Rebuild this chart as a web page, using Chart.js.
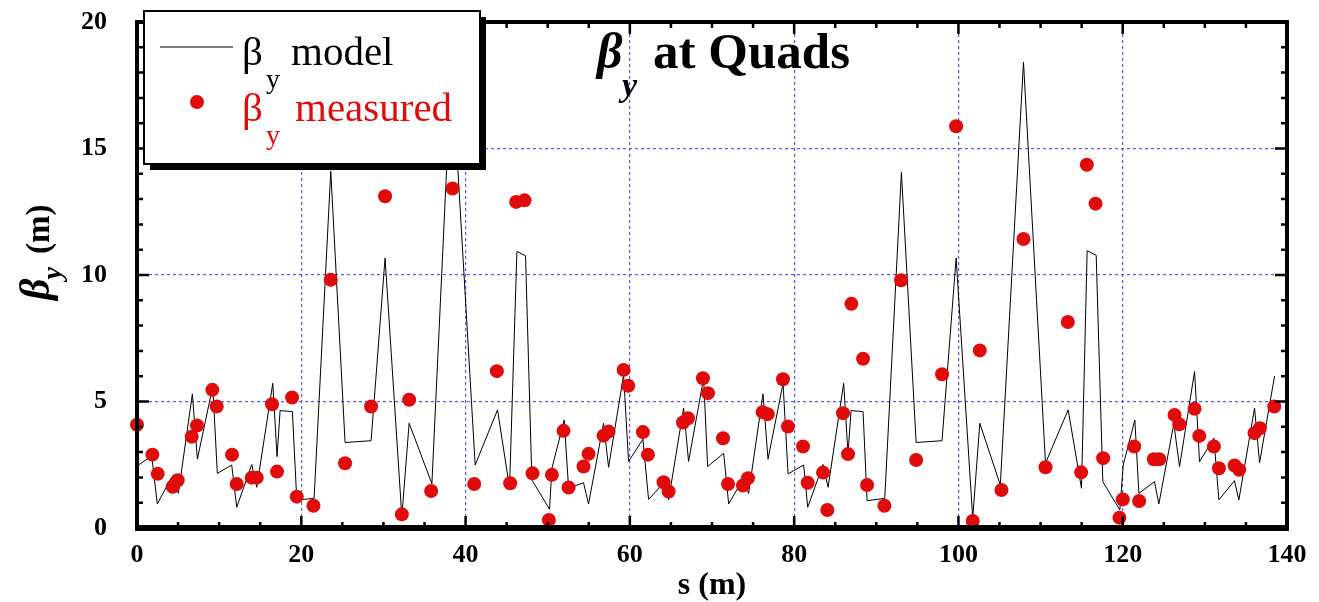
<!DOCTYPE html>
<html>
<head>
<meta charset="utf-8">
<script src="https://cdn.jsdelivr.net/npm/chart.js@4.4.1/dist/chart.umd.min.js"></script>
<style>
  body { margin: 0; background: #fff; }
  #wrap { width: 1319px; height: 602px; }
</style>
</head>
<body>
<div id="wrap"><canvas id="betaChart"></canvas></div>
<script>
// model beta_y along the line (s in m)
const modelS = [0, 1.79, 2.47, 4.22, 5.04, 6.74, 7.35, 9.22, 9.78, 11.53, 12.14, 13.97, 14.58, 16.53, 17.05,
    17.42, 18.92, 19.45, 21.56, 23.59, 25.33, 28.5, 30.2, 32.24, 33.13, 35.9, 38.3, 41.17, 43.89, 45.35,
    46.25, 47.3, 48.07, 50.22, 50.51, 52.01, 52.54, 54.36, 54.97, 56.8, 57.41, 59.24, 59.84, 61.59, 62.28,
    64.11, 64.72, 66.54, 67.15, 68.98, 69.47, 71.42, 72.03, 73.77, 74.46, 76.21, 76.82, 78.65, 79.26, 81.16,
    81.65, 83.52, 84.13, 86.03, 86.56, 86.93, 88.39, 88.88, 91.03, 93.06, 94.85, 98.0, 99.72, 101.74, 102.6,
    105.1, 107.92, 110.6, 113.36, 114.98, 115.67, 116.77, 117.58, 119.65, 120.06, 121.48, 121.97, 123.87, 124.4, 126.22,
    126.92, 128.75, 129.35, 131.1, 131.71, 133.6, 134.14, 136.05, 136.66, 138.49];
const modelBeta = [2.45, 2.85, 0.95, 2.01, 1.37, 5.3, 2.72, 5.6, 2.16, 2.49, 0.82, 2.51, 1.61, 5.72, 2.82,
    4.64, 4.6, 1.11, 1.17, 14.1, 3.38, 3.45, 10.67, 0.45, 4.14, 1.75, 18.4, 2.49, 4.67, 1.6,
    10.93, 10.76, 1.9, 0.74, 2.36, 4.27, 1.57, 1.79, 0.95, 4.14, 2.4, 6.05, 2.63, 3.51, 1.13,
    1.77, 1.11, 4.74, 2.63, 5.92, 2.43, 2.95, 0.95, 1.93, 1.37, 5.3, 2.72, 5.72, 2.14, 2.49,
    0.82, 2.51, 1.61, 5.72, 2.93, 4.64, 4.6, 1.08, 1.17, 14.06, 3.38, 3.45, 10.67, 0.38, 4.14,
    1.7, 18.41, 2.56, 4.67, 1.57, 10.96, 10.78, 1.83, 0.71, 2.49, 4.27, 1.37, 1.83, 0.95, 4.12,
    2.43, 6.19, 2.62, 3.55, 1.11, 1.87, 1.11, 4.74, 2.58, 6.01];

// measured beta_y at the quads
const measS = [0, 1.87, 2.52, 4.34, 4.95, 6.66, 7.31, 9.17, 9.7, 11.57, 12.14, 13.97, 14.58, 16.44, 17.05,
    18.88, 19.45, 21.48, 23.59, 25.33, 28.5, 30.2, 32.24, 33.13, 35.81, 38.41, 41.05, 43.81, 45.43, 46.16,
    47.18, 48.15, 50.14, 50.51, 51.93, 52.54, 54.36, 54.97, 56.8, 57.41, 59.24, 59.8, 61.59, 62.2, 64.1,
    64.72, 66.47, 67.07, 68.9, 69.51, 71.34, 71.95, 73.77, 74.38, 76.17, 76.78, 78.64, 79.25, 81.08, 81.65,
    83.52, 84.04, 85.95, 86.56, 86.97, 88.39, 88.88, 90.99, 93.02, 94.85, 98.01, 99.72, 101.74, 102.6, 105.24,
    107.92, 110.6, 113.32, 114.94, 115.63, 116.69, 117.62, 119.6, 120.01, 121.4, 122.0, 123.79, 124.44, 126.31,
    126.88, 128.75, 129.32, 131.1, 131.71, 133.62, 134.18, 136.05, 136.7, 138.45];
const measBeta = [4.08, 2.9, 2.14, 1.63, 1.89, 3.61, 4.05, 5.46, 4.8, 2.9, 1.74, 1.99, 1.99, 4.89, 2.23,
    5.16, 1.24, 0.88, 9.81, 2.56, 4.8, 13.11, 0.54, 5.07, 1.46, 13.42, 1.74, 6.2, 1.77, 12.89,
    12.95, 2.16, 0.32, 2.1, 3.84, 1.6, 2.43, 2.93, 3.65, 3.81, 6.25, 5.62, 3.79, 2.9, 1.81,
    1.44, 4.17, 4.34, 5.92, 5.33, 3.55, 1.74, 1.68, 1.97, 4.58, 4.5, 5.88, 4.01, 3.22, 1.79,
    2.19, 0.71, 4.54, 2.92, 8.86, 6.69, 1.7, 0.88, 9.79, 2.69, 6.08, 15.88, 0.28, 7.02, 1.5,
    11.42, 2.4, 8.14, 2.2, 14.36, 12.82, 2.76, 0.41, 1.13, 3.22, 1.07, 2.72, 2.72, 4.47,
    4.1, 4.71, 3.64, 3.22, 2.36, 2.47, 2.3, 3.75, 3.94, 4.8];

const xTickStep = 20;   // labelled x ticks
const yTickStep = 5;    // labelled y ticks
const xMinorStep = 5;
const yMinorStep = 1;

const SERIF = "'Liberation Serif', 'Times New Roman', serif";
const RED = '#e00b0b';
const GRID = 'rgba(70, 70, 230, 0.9)';

const gridColor = (lo, hi) => ctx => {
    const v = ctx.tick ? ctx.tick.value : null;
    return (v !== null && v > lo && v < hi) ? GRID : 'rgba(0,0,0,0)';
};

// frame, inner ticks, legend, title and axis titles
const decorations = {
    id: 'decorations',
    afterDraw(chart) {
        const ctx = chart.ctx;
        const area = chart.chartArea;
        const xs = chart.scales.x, ys = chart.scales.y;
        ctx.save();

        // frame
        ctx.strokeStyle = '#000';
        ctx.lineWidth = 4;
        ctx.strokeRect(area.left, area.top, area.right - area.left, area.bottom - area.top);
        ctx.lineWidth = 6;
        ctx.beginPath();
        ctx.moveTo(area.left - 2, area.bottom); ctx.lineTo(area.right + 2, area.bottom);
        ctx.stroke();

        // inner ticks on all four sides
        ctx.lineWidth = 2.5;
        ctx.beginPath();
        for (let v = 0; v <= 140; v += xMinorStep) {
            const px = xs.getPixelForValue(v);
            const len = v % xTickStep === 0 ? 12 : 6;
            ctx.moveTo(px, area.bottom); ctx.lineTo(px, area.bottom - len);
            ctx.moveTo(px, area.top); ctx.lineTo(px, area.top + len);
        }
        for (let v = 0; v <= 20; v += yMinorStep) {
            const py = ys.getPixelForValue(v);
            const len = v % yTickStep === 0 ? 12 : 6;
            ctx.moveTo(area.left, py); ctx.lineTo(area.left + len, py);
            ctx.moveTo(area.right, py); ctx.lineTo(area.right - len, py);
        }
        ctx.stroke();

        // legend box with shadow
        const lx = 144, ly = 11, lw = 336, lh = 153;
        ctx.fillStyle = '#000';
        ctx.fillRect(lx + 6, ly + 6, lw, lh);
        ctx.fillStyle = '#fff';
        ctx.fillRect(lx, ly, lw, lh);
        ctx.lineWidth = 2;
        ctx.strokeStyle = '#000';
        ctx.strokeRect(lx, ly, lw, lh);

        ctx.lineWidth = 1;
        ctx.beginPath();
        ctx.moveTo(160, 47); ctx.lineTo(233, 47);
        ctx.stroke();

        ctx.fillStyle = RED;
        ctx.beginPath();
        ctx.arc(197, 102, 7, 0, Math.PI * 2);
        ctx.fill();

        ctx.textAlign = 'left';
        ctx.textBaseline = 'alphabetic';
        ctx.fillStyle = '#000';
        ctx.font = `41px ${SERIF}`;
        ctx.fillText('\u03b2', 242, 65);
        ctx.fillText('model', 291, 65);
        ctx.font = `28px ${SERIF}`;
        ctx.fillText('y', 266, 88);

        ctx.fillStyle = RED;
        ctx.font = `41px ${SERIF}`;
        ctx.fillText('\u03b2', 242, 121);
        ctx.fillText('measured', 295, 121);
        ctx.font = `28px ${SERIF}`;
        ctx.fillText('y', 266, 144);

        // title
        ctx.fillStyle = '#000';
        ctx.font = `italic bold 50px ${SERIF}`;
        ctx.fillText('\u03b2', 597, 68);
        ctx.font = `italic bold 34px ${SERIF}`;
        ctx.fillText('y', 622, 96);
        ctx.font = `bold 51px ${SERIF}`;
        ctx.fillText('at Quads', 653, 68);

        // x axis title
        ctx.font = `bold 32px ${SERIF}`;
        ctx.textAlign = 'center';
        ctx.fillText('s (m)', (area.left + area.right) / 2, 594);

        // y axis title, rotated
        ctx.translate(49, 300);
        ctx.rotate(-Math.PI / 2);
        ctx.textAlign = 'left';
        ctx.font = `italic bold 42px ${SERIF}`;
        ctx.fillText('\u03b2', 0, 0);
        const bw = ctx.measureText('\u03b2').width;
        ctx.font = `italic bold 28px ${SERIF}`;
        ctx.fillText('y', bw - 1, 12);
        const yw = ctx.measureText('y').width;
        ctx.font = `bold 33px ${SERIF}`;
        ctx.fillText('(m)', bw + yw + 12, 0);

        ctx.restore();
    }
};

new Chart(document.getElementById('betaChart'), {
    type: 'scatter',
    data: {
        datasets: [
            {
                label: 'βy measured',
                data: measS.map((s, i) => ({ x: s, y: measBeta[i] })),
                backgroundColor: RED,
                borderColor: RED,
                borderWidth: 0,
                pointRadius: 7,
                clip: false
            },
            {
                label: 'βy model',
                data: modelS.map((s, i) => ({ x: s, y: modelBeta[i] })),
                showLine: true,
                borderColor: '#000',
                borderWidth: 1,
                pointRadius: 0,
                tension: 0
            }
        ]
    },
    options: {
        responsive: true,
        maintainAspectRatio: false,
        animation: false,
        layout: { padding: { left: 0, right: 32, top: 22, bottom: 0 } },
        plugins: { legend: { display: false }, tooltip: { enabled: false } },
        scales: {
            x: {
                type: 'linear', min: 0, max: 140,
                ticks: { stepSize: xTickStep, padding: 12, color: '#000', maxRotation: 0,
                    font: { family: SERIF, size: 26, weight: 'bold' } },
                grid: { drawTicks: false, color: gridColor(0, 140), lineWidth: 1.2 },
                border: { display: false, dash: [3, 3] },
                afterFit: s => { s.height = 74; s.paddingLeft = 0; s.paddingRight = 0; }
            },
            y: {
                type: 'linear', min: 0, max: 20,
                ticks: { stepSize: yTickStep, padding: 30, color: '#000',
                    font: { family: SERIF, size: 26, weight: 'bold' } },
                grid: { drawTicks: false, color: gridColor(0, 20), lineWidth: 1.2 },
                border: { display: false, dash: [3, 3] },
                afterFit: s => { s.width = 137; s.paddingTop = 0; s.paddingBottom = 0; }
            }
        }
    },
    plugins: [decorations]
});
</script>
</body>
</html>
